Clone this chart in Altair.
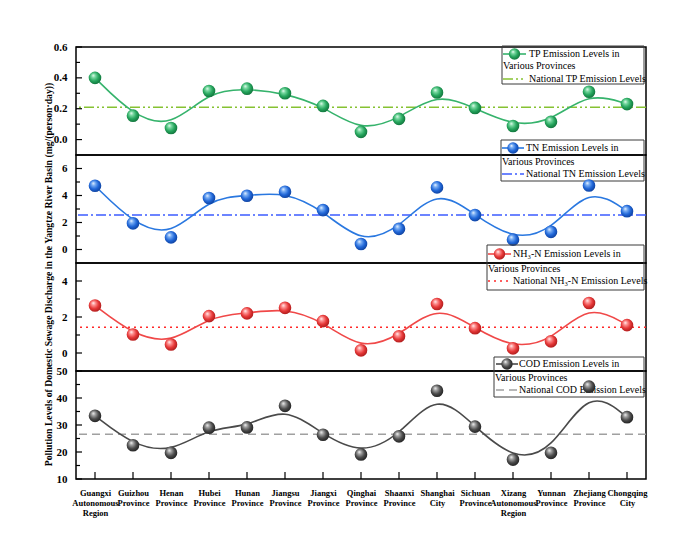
import altair as alt
import pandas as pd

provinces = [
    "Guangxi Autonomous Region", "Guizhou Province", "Henan Province",
    "Hubei Province", "Hunan Province", "Jiangsu Province", "Jiangxi Province",
    "Qinghai Province", "Shaanxi Province", "Shanghai City", "Sichuan Province",
    "Xizang Autonomous Region", "Yunnan Province", "Zhejiang Province",
    "Chongqing City",
]

tp_values = [0.40, 0.155, 0.075, 0.315, 0.33, 0.30, 0.218, 0.05, 0.134,
             0.305, 0.205, 0.088, 0.115, 0.31, 0.23]
tn_values = [4.72, 1.94, 0.90, 3.81, 3.98, 4.28, 2.92, 0.41, 1.53,
             4.60, 2.55, 0.73, 1.31, 4.74, 2.84]
nh3_values = [2.64, 1.03, 0.47, 2.05, 2.20, 2.51, 1.77, 0.15, 0.93,
              2.72, 1.38, 0.26, 0.65, 2.78, 1.55]
cod_values = [33.4, 22.5, 19.7, 29.0, 29.1, 37.1, 26.4, 19.1, 25.8,
              42.7, 29.4, 17.2, 19.7, 44.2, 32.9]

national_tp = 0.21
national_tn = 2.55
national_nh3 = 1.43
national_cod = 26.6

series_labels = ["TP Emission Levels in", "TN Emission Levels in",
                 "NH\u2083-N Emission Levels in", "COD Emission Levels in"]
series_label_2 = "Various Provinces"
national_labels = ["National TP Emission Levels", "National TN Emission Levels",
                   "National NH\u2083-N Emission Levels", "National COD Emission Levels"]

y_title = ("Pollution Levels of Domestic Sewage Discharge in the Yangtze River "
           "Basin (mg/(person\u00b7day))")

FONT = "Liberation Serif"
W, H = 570, 108


def ball(light, mid, dark):
    return alt.Gradient(
        gradient="radial",
        stops=[
            alt.GradientStop(color="#ffffff", offset=0),
            alt.GradientStop(color=light, offset=0.22),
            alt.GradientStop(color=mid, offset=0.6),
            alt.GradientStop(color=dark, offset=1),
        ],
        x1=0.36, y1=0.3, r1=0, x2=0.45, y2=0.45, r2=0.62,
    )


def panel(values, national, domain, major, minor, line_color, ball_fill,
          nat_color, nat_dash, label1, label_nat, legend, bottom=False,
          title=False):
    df = pd.DataFrame({"province": provinces, "value": values})
    x_enc = alt.X(
        "province:N", sort=provinces,
        scale=alt.Scale(type="point", padding=0.5),
        axis=alt.Axis(
            title=None, ticks=False, domain=False, labelAngle=0,
            labelFont=FONT, labelFontWeight="bold", labelFontSize=8.5,
            labelColor="black", labelPadding=9, labelLineHeight=10,
            labelExpr="split(datum.label, ' ')",
        ) if bottom else None,
    )
    axis_kw = dict(
        values=major, ticks=False, domain=False, grid=False,
        labelFont=FONT, labelFontWeight="bold", labelFontSize=11,
        labelColor="black", labelPadding=9, labelOverlap=False,
        labelFlush=False,
    )
    if title:
        axis_kw.update(
            title=y_title, titleFont=FONT, titleFontWeight="bold",
            titleFontSize=9.7, titleColor="black", titleX=-28, titleY=H + 11,
            titleAngle=270, titleAlign="center", titleBaseline="middle",
        )
    else:
        axis_kw.update(title=None)
    y_scale = alt.Scale(domain=domain, nice=False, zero=False)
    y_enc = alt.Y("value:Q", scale=y_scale, axis=alt.Axis(**axis_kw))

    base = alt.Chart(df)
    curve = base.mark_line(interpolate="basis", color=line_color,
                           strokeWidth=1.6).encode(x=x_enc, y=y_enc)
    balls = base.mark_point(filled=True, shape="circle", size=160,
                            fill=ball_fill, opacity=1, strokeWidth=0
                            ).encode(x=x_enc, y=y_enc)

    nat = alt.Chart(pd.DataFrame({"value": [national]})).mark_rule(
        color=nat_color, strokeDash=nat_dash, strokeWidth=1.5
    ).encode(y=y_enc)

    major_ticks = alt.Chart(pd.DataFrame({"value": major})).mark_rule(
        color="black", strokeWidth=1.2
    ).encode(y=y_enc, x=alt.value(0), x2=alt.value(6))
    minor_ticks = alt.Chart(pd.DataFrame({"value": minor})).mark_rule(
        color="black", strokeWidth=1.2
    ).encode(y=y_enc, x=alt.value(0), x2=alt.value(4))

    # legend box with its three rows
    bx0, bx1, by0, by1, lx0, lx1, tx, r1, r2, r3 = legend
    box = alt.Chart(pd.DataFrame({"a": [0]})).mark_rect(
        fillOpacity=0, stroke="#3a3a3a", strokeWidth=1
    ).encode(x=alt.value(bx0), x2=alt.value(bx1), y=alt.value(by0),
             y2=alt.value(by1))
    sym_line = alt.Chart(pd.DataFrame({"a": [0]})).mark_rule(
        color=line_color, strokeWidth=1.6
    ).encode(x=alt.value(lx0), x2=alt.value(lx1), y=alt.value(r1))
    sym_ball = alt.Chart(pd.DataFrame({"a": [0]})).mark_point(
        filled=True, shape="circle", size=130, fill=ball_fill, opacity=1,
        strokeWidth=0
    ).encode(x=alt.value((lx0 + lx1) / 2), y=alt.value(r1))
    sym_nat = alt.Chart(pd.DataFrame({"a": [0]})).mark_rule(
        color=nat_color, strokeDash=nat_dash, strokeWidth=1.5
    ).encode(x=alt.value(lx0), x2=alt.value(lx1), y=alt.value(r3))
    txt_kw = dict(font=FONT, fontSize=10, color="black", align="left",
                  baseline="middle")
    t1 = alt.Chart(pd.DataFrame({"t": [label1]})).mark_text(**txt_kw).encode(
        text="t:N", x=alt.value(tx), y=alt.value(r1))
    t2 = alt.Chart(pd.DataFrame({"t": [series_label_2]})).mark_text(**txt_kw).encode(
        text="t:N", x=alt.value(bx0 + 1), y=alt.value(r2))
    t3 = alt.Chart(pd.DataFrame({"t": [label_nat]})).mark_text(**txt_kw).encode(
        text="t:N", x=alt.value(tx), y=alt.value(r3))

    layers = [box, sym_line, sym_nat, sym_ball, t1, t2, t3,
              major_ticks, minor_ticks, nat, curve, balls]
    if bottom:
        xticks = base.mark_rule(color="black", strokeWidth=1.2).encode(
            x=x_enc, y=alt.value(H - 7), y2=alt.value(H))
        layers.append(xticks)
    return alt.layer(*layers).properties(width=W, height=H)


p_tp = panel(tp_values, national_tp, [-0.1, 0.6], [0.0, 0.2, 0.4, 0.6],
             [0.1, 0.3, 0.5], "#36b36c", ball("#7fdca6", "#24a55c", "#0f6a36"),
             "#86c232", [10, 3, 2, 3, 2, 3], series_labels[0], national_labels[0],
             (426, 568, -1, 37, 427, 450, 453, 7, 19, 32))
p_tn = panel(tn_values, national_tn, [-1, 7], [0, 2, 4, 6], [1, 3, 5],
             "#2a78e0", ball("#7fb2f5", "#1f66d8", "#0c3a92"),
             "#3d5cff", [10, 3, 2, 3], series_labels[1], national_labels[1],
             (425, 568, -15, 26, 426, 448, 450, -7, 7, 19), title=True)
p_nh3 = panel(nh3_values, national_nh3, [-1, 5], [0, 2, 4], [1, 3],
              "#f04848", ball("#ff9a9a", "#e63636", "#a01818"),
              "#ff2a2a", [2, 4], series_labels[2], national_labels[2],
              (411, 568, -18, 27, 412, 435, 437, -9, 6, 18))
p_cod = panel(cod_values, national_cod, [10, 50], [10, 20, 30, 40, 50],
              [15, 25, 35, 45], "#4a4a4a", ball("#a8a8a8", "#4a4a4a", "#1a1a1a"),
              "#a0a0a0", [8, 5], series_labels[3], national_labels[3],
              (418, 568, -14, 26, 420, 442, 443, -7, 7, 19), bottom=True)

chart = alt.vconcat(p_tp, p_tn, p_nh3, p_cod, spacing=0, bounds="flush").configure_view(
    stroke="black", strokeWidth=1.5
).properties(
    padding={"left": 42, "top": 40, "right": 5, "bottom": 5},
    background="white",
)

chart.save("out.html", embed_options={"renderer": "svg", "actions": False})
